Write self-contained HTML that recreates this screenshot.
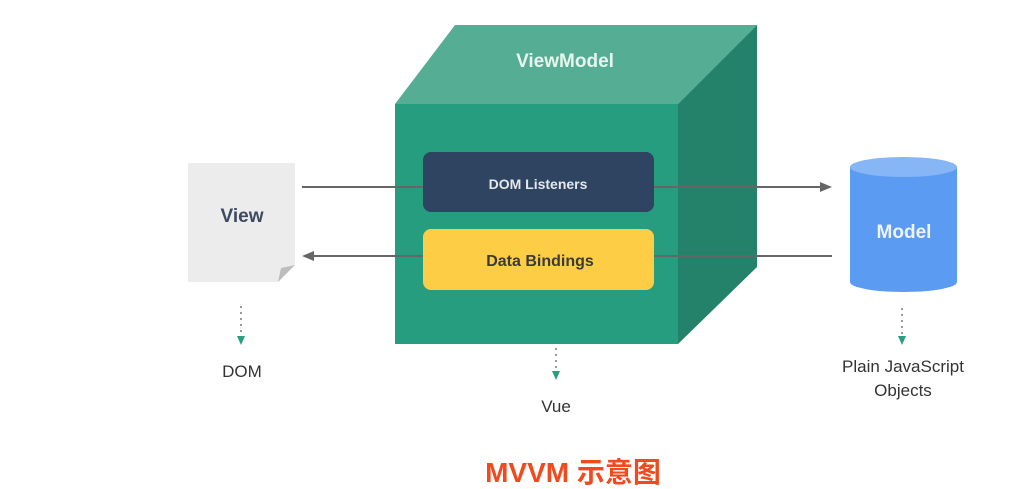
<!DOCTYPE html>
<html><head><meta charset="utf-8"><style>
html,body{margin:0;padding:0;background:#fff;width:1011px;height:489px;overflow:hidden}
svg{display:block}
text{font-family:"Liberation Sans","Noto Sans CJK SC",sans-serif}
.title{font-family:"Liberation Sans","Noto Sans CJK SC",sans-serif;font-weight:bold;font-size:28px;paint-order:stroke}
</style></head><body>
<svg width="1011" height="489" viewBox="0 0 1011 489">
<rect width="1011" height="489" fill="#fff"/>
<!-- cube -->
<polygon points="395,104 455,25 757,25 678,104" fill="#55ae93"/>
<polygon points="678,104 757,25 757,267 678,344" fill="#24816a"/>
<rect x="395" y="104" width="283" height="240" fill="#279d80"/>
<text x="565" y="67" font-size="19" font-weight="bold" fill="#e8f5ef" text-anchor="middle">ViewModel</text>
<!-- lines -->
<line x1="302" y1="187" x2="822" y2="187" stroke="#666" stroke-width="2"/>
<polygon points="832,187 820,182 820,192" fill="#666"/>
<line x1="312" y1="256" x2="832" y2="256" stroke="#666" stroke-width="2"/>
<polygon points="302,256 314,251 314,261" fill="#666"/>
<rect x="423" y="152" width="231" height="60" rx="8" fill="#2f4460"/>
<text x="538" y="189" font-size="14" font-weight="bold" fill="#e4e8ee" text-anchor="middle">DOM Listeners</text>
<rect x="423" y="229" width="231" height="61" rx="8" fill="#fccd45"/>
<text x="540" y="266" font-size="16" font-weight="bold" fill="#3a3a3a" text-anchor="middle">Data Bindings</text>
<!-- view doc -->
<polygon points="188,163 295,163 295,265 278,282 188,282" fill="#ececec"/>
<polygon points="295,265 278,282 281,268" fill="#bdbdbd"/>
<text x="242" y="222" font-size="19" font-weight="bold" fill="#3d4a60" text-anchor="middle">View</text>
<!-- model cylinder -->
<rect x="850" y="167" width="107" height="115" fill="#5b9bf1"/>
<ellipse cx="903.5" cy="282" rx="53.5" ry="10" fill="#5b9bf1"/>
<ellipse cx="903.5" cy="167" rx="53.5" ry="10" fill="#86b6f5"/>
<text x="904" y="238" font-size="19" font-weight="bold" fill="#eef4fd" text-anchor="middle">Model</text>
<!-- dotted arrows -->
<g stroke="#9a9a9a" stroke-width="2" stroke-dasharray="2,4">
<line x1="241" y1="306" x2="241" y2="334"/>
<line x1="556" y1="348" x2="556" y2="370"/>
<line x1="902" y1="308" x2="902" y2="334"/>
</g>
<g fill="#2a9e80">
<polygon points="237,336 245,336 241,345"/>
<polygon points="552,371 560,371 556,380"/>
<polygon points="898,336 906,336 902,345"/>
</g>
<g font-size="17" fill="#333" text-anchor="middle">
<text x="242" y="377">DOM</text>
<text x="556" y="412">Vue</text>
<text x="903" y="372">Plain JavaScript</text>
<text x="903" y="396">Objects</text>
</g>
<text class="title" x="573" y="482" fill="#f04a1e" stroke="#ffffff" stroke-width="3" stroke-linejoin="round" text-anchor="middle">MVVM 示意图</text>
</svg>
</body></html>
